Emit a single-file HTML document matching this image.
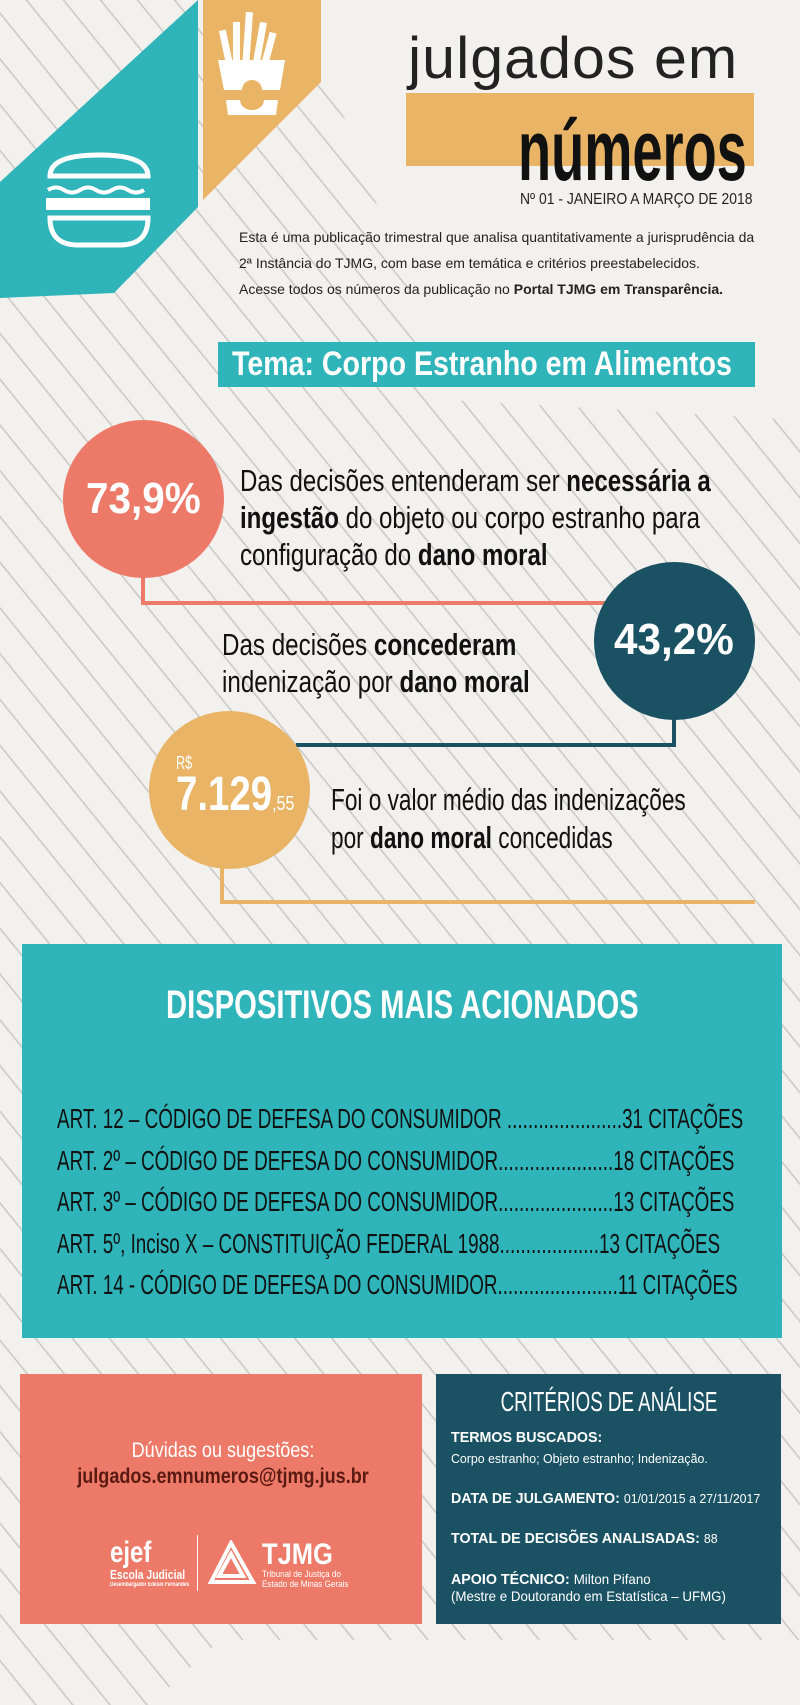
<!DOCTYPE html>
<html><head><meta charset="utf-8">
<style>
*{margin:0;padding:0;box-sizing:border-box}
body{width:800px;height:1705px;position:relative;overflow:hidden;background:#f3f1ee;font-family:"Liberation Sans",sans-serif}
.stripes{position:absolute;left:0;top:0;width:800px;height:1705px;background:repeating-linear-gradient(51deg,#f3f1ee 0px,#f3f1ee 27px,#d0cecb 27px,#d0cecb 28.8px)}
.a{position:absolute;white-space:nowrap;transform-origin:0 50%}
.circ{position:absolute;border-radius:50%}
b{font-weight:bold}
</style></head><body>
<div class="stripes"></div>
<div style="position:absolute;left:0;top:0;width:800px;height:1705px;background:#f3f1ee;clip-path:polygon(300px 0,800px 0,800px 420px,450px 400px)"></div>
<div style="position:absolute;left:0;top:1640px;width:800px;height:65px;background:#f3f1ee;clip-path:polygon(220px 0,800px 0,800px 65px,150px 65px)"></div>

<svg style="position:absolute;left:0;top:0" width="340" height="310">
<polygon points="203,0 321,0 321,82 203,200" fill="#e9b465"/>
<polygon points="198,0 198,207 114,293 0,298 0,182" fill="#2eb4b9"/>
<g fill="#fff">
<rect x="223" y="30" width="7" height="40" transform="rotate(-12 226 50)"/>
<rect x="233" y="22" width="7" height="48"/>
<rect x="244" y="12" width="7" height="58" transform="rotate(4 247 40)"/>
<rect x="256" y="22" width="7" height="46" transform="rotate(10 259 45)"/>
<rect x="265" y="32" width="7" height="36" transform="rotate(15 268 50)"/>
<path d="M218 60 L285 60 L280 90 L262 90 A10 10 0 0 0 242 90 L224 90 Z"/>
<path d="M226 100 L240 100 A12 10 0 0 0 264 100 L278 100 L276 115 L228 115 Z"/>
</g>
<g fill="none" stroke="#fff" stroke-width="5">
<path d="M50 176 Q50 155 99 155 Q148 155 148 176 Z"/>
<path d="M50 218 L148 218 Q148 245 120 245 L78 245 Q50 245 50 218 Z"/>
</g>
<path d="M48 190 q8 -5 16 0 t16 0 t16 0 t16 0 t16 0 t16 0" fill="none" stroke="#fff" stroke-width="4"/>
<path d="M46 198 L150 198 L150 210 L46 210 Z" fill="#fff"/>
</svg>

<div class="a" style="left:408px;top:30px;font-size:58px;line-height:58px;color:#222;font-weight:normal;letter-spacing:1px;transform:scaleX(1.02)">julgados em</div>
<div style="position:absolute;left:406px;top:93px;width:348px;height:73px;background:#e9b465"></div>
<div class="a" style="left:518px;top:108px;font-size:86px;line-height:86px;font-weight:bold;color:#111;transform:scaleX(0.63)">números</div>
<div class="a" style="left:520px;top:191px;font-size:16px;line-height:18px;color:#222;transform:scaleX(0.87)">Nº 01 - JANEIRO A MARÇO DE 2018</div>
<div class="a" style="left:239px;top:224px;font-size:14px;line-height:26px;color:#222;transform-origin:0 0">Esta é uma publicação trimestral que analisa quantitativamente a jurisprudência da<br>2ª Instância do TJMG, com base em temática e critérios preestabelecidos.<br>Acesse todos os números da publicação no <b>Portal TJMG em Transparência.</b></div>

<div style="position:absolute;left:218px;top:342px;width:537px;height:45px;background:#2eb4b9"></div>
<div class="a" style="left:232px;top:344px;font-size:34px;line-height:40px;font-weight:bold;color:#fff;transform:scaleX(0.84)">Tema: Corpo Estranho em Alimentos</div>

<div style="position:absolute;left:141px;top:560px;width:4px;height:45px;background:#ed7a68"></div>
<div style="position:absolute;left:141px;top:601px;width:470px;height:4px;background:#ed7a68"></div>
<div style="position:absolute;left:672px;top:700px;width:4px;height:47px;background:#1a5264"></div>
<div style="position:absolute;left:296px;top:743px;width:380px;height:4px;background:#1a5264"></div>
<div style="position:absolute;left:220px;top:850px;width:4px;height:54px;background:#e9b465"></div>
<div style="position:absolute;left:220px;top:900px;width:535px;height:4px;background:#e9b465"></div>

<div class="circ" style="left:63px;top:420px;width:161px;height:158px;background:#ed7a68"></div>
<div class="a" style="left:86px;top:476px;font-size:44px;line-height:46px;font-weight:bold;color:#fff;transform:scaleX(0.92)">73,9%</div>
<div class="a" style="left:240px;top:462px;font-size:31px;line-height:37px;color:#111;transform:scaleX(0.776);transform-origin:0 0">Das decisões entenderam ser <b>necessária a</b><br><b>ingestão</b> do objeto ou corpo estranho para<br>configuração do <b>dano moral</b></div>

<div class="circ" style="left:594px;top:562px;width:161px;height:158px;background:#1a5264"></div>
<div class="a" style="left:614px;top:617px;font-size:44px;line-height:46px;font-weight:bold;color:#fff;transform:scaleX(0.96)">43,2%</div>
<div class="a" style="left:222px;top:626px;font-size:31px;line-height:37px;color:#111;transform:scaleX(0.78);transform-origin:0 0">Das decisões <b>concederam</b><br>indenização por <b>dano moral</b></div>

<div class="circ" style="left:149px;top:711px;width:161px;height:158px;background:#e9b465"></div>
<div class="a" style="left:176px;top:753px;font-size:18px;line-height:20px;color:#fff;transform:scaleX(0.7)">R$</div>
<div class="a" style="left:176px;top:771px;font-size:48px;line-height:48px;font-weight:bold;color:#fff;transform:scaleX(0.8);transform-origin:0 0">7.129<span style="font-size:20px;font-weight:normal">,55</span></div>
<div class="a" style="left:331px;top:781px;font-size:31px;line-height:38px;color:#111;transform:scaleX(0.73);transform-origin:0 0">Foi o valor médio das indenizações<br>por <b>dano moral</b> concedidas</div>

<div style="position:absolute;left:22px;top:944px;width:760px;height:394px;background:#2eb4b9"></div>
<div class="a" style="left:166px;top:982px;font-size:40px;line-height:46px;font-weight:bold;color:#fff;transform:scaleX(0.73)">DISPOSITIVOS MAIS ACIONADOS</div>
<div class="a" style="left:57px;top:1098px;font-size:28px;line-height:41.5px;color:#111;transform:scaleX(0.673);transform-origin:0 0">ART. 12 – CÓDIGO DE DEFESA DO CONSUMIDOR ......................31 CITAÇÕES<br>ART. 2º – CÓDIGO DE DEFESA DO CONSUMIDOR......................18 CITAÇÕES<br>ART. 3º – CÓDIGO DE DEFESA DO CONSUMIDOR......................13 CITAÇÕES<br>ART. 5º, Inciso X – CONSTITUIÇÃO FEDERAL 1988...................13 CITAÇÕES<br>ART. 14 - CÓDIGO DE DEFESA DO CONSUMIDOR.......................11 CITAÇÕES</div>

<div style="position:absolute;left:20px;top:1374px;width:402px;height:250px;background:#ed7a68"></div>
<div class="a" style="left:223px;top:1439px;font-size:21px;line-height:24px;color:#fff;transform:translateX(-50%) scaleX(0.86);transform-origin:50% 50%">Dúvidas ou sugestões:</div>
<div class="a" style="left:223px;top:1464px;font-size:21px;line-height:26px;font-weight:bold;color:#5a1a12;transform:translateX(-50%) scaleX(0.86);transform-origin:50% 50%">julgados.emnumeros@tjmg.jus.br</div>
<div class="a" style="left:110px;top:1537px;font-size:30px;line-height:32px;color:#fff;font-weight:bold;transform:scaleX(0.8)">ejef</div>
<div class="a" style="left:110px;top:1568px;font-size:13px;line-height:14px;color:#fff;font-weight:bold;transform:scaleX(0.8)">Escola Judicial</div>
<div class="a" style="left:110px;top:1582px;font-size:6px;line-height:7px;color:#fff;font-weight:bold;transform:scaleX(0.8)">Desembargador Edésio Fernandes</div>
<div style="position:absolute;left:197px;top:1535px;width:1px;height:56px;background:#fff"></div>
<svg style="position:absolute;left:207px;top:1540px" width="50" height="46"><path d="M24 3 L46 42 L4 42 Z M24 14 L36 36 L12 36 Z" fill="none" stroke="#fff" stroke-width="4"/></svg>
<div class="a" style="left:262px;top:1540px;font-size:30px;line-height:30px;font-weight:bold;color:#fff;transform:scaleX(0.85)">TJMG</div>
<div class="a" style="left:262px;top:1569px;font-size:9px;line-height:10px;color:#fff;transform:scaleX(0.9);transform-origin:0 0">Tribunal de Justiça do<br>Estado de Minas Gerais</div>

<div style="position:absolute;left:436px;top:1374px;width:345px;height:250px;background:#1a5264"></div>
<div class="a" style="left:609px;top:1387px;font-size:28px;line-height:30px;color:#fff;transform:translateX(-50%) scaleX(0.67);transform-origin:50% 50%">CRITÉRIOS DE ANÁLISE</div>
<div class="a" style="left:451px;top:1429px;font-size:15px;line-height:18px;color:#fff;transform:scaleX(0.95);transform-origin:0 0"><b>TERMOS BUSCADOS:</b></div>
<div class="a" style="left:451px;top:1451px;font-size:13px;line-height:16px;color:#fff;transform:scaleX(0.95);transform-origin:0 0">Corpo estranho; Objeto estranho; Indenização.</div>
<div class="a" style="left:451px;top:1490px;font-size:15px;line-height:18px;color:#fff;transform:scaleX(0.95);transform-origin:0 0"><b>DATA DE JULGAMENTO:</b> <span style="font-size:13px">01/01/2015 a 27/11/2017</span></div>
<div class="a" style="left:451px;top:1530px;font-size:15px;line-height:18px;color:#fff;transform:scaleX(0.95);transform-origin:0 0"><b>TOTAL DE DECISÕES ANALISADAS:</b> <span style="font-size:13px">88</span></div>
<div class="a" style="left:451px;top:1570px;font-size:15px;line-height:18px;color:#fff;transform:scaleX(0.95);transform-origin:0 0"><b>APOIO TÉCNICO:</b> <span style="font-size:14px">Milton Pifano</span></div>
<div class="a" style="left:451px;top:1588px;font-size:14px;line-height:17px;color:#fff;transform:scaleX(0.95);transform-origin:0 0">(Mestre e Doutorando em Estatística – UFMG)</div>
</body></html>
